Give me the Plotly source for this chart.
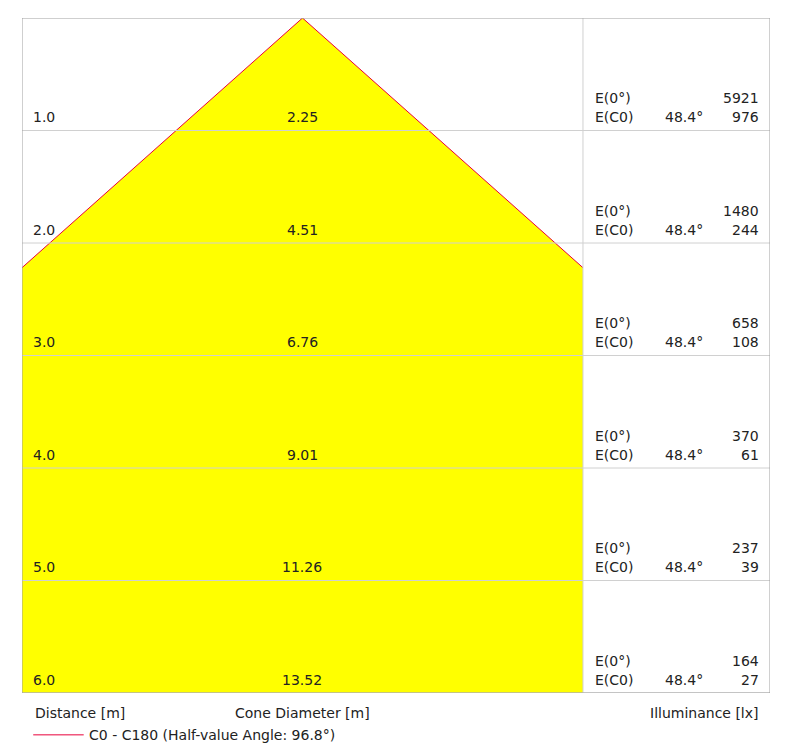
import math
import plotly.graph_objects as go

distances = [1.0, 2.0, 3.0, 4.0, 5.0, 6.0]
diameters = ["2.25", "4.51", "6.76", "9.01", "11.26", "13.52"]
e_center = [5921, 1480, 658, 370, 237, 164]
e_c0 = [976, 244, 108, 61, 39, 27]
half_angle = 48.4

FONT = "DejaVu Sans"
W_HALF = 2.5
X_MAX = 4.167
D_MAX = 6.0

t = math.tan(math.radians(half_angle))
d_edge = W_HALF / t

fig = go.Figure()

# cone fill
fig.add_trace(go.Scatter(
    x=[-W_HALF, 0, W_HALF, W_HALF, -W_HALF, -W_HALF],
    y=[d_edge, 0, d_edge, D_MAX, D_MAX, d_edge],
    fill="toself", fillcolor="#FFFF00", mode="none",
    hoverinfo="skip", showlegend=False,
))
# cone edges
fig.add_trace(go.Scatter(
    x=[-W_HALF, 0, W_HALF], y=[d_edge, 0, d_edge],
    mode="lines", line=dict(color="#E8003A", width=1),
    hoverinfo="skip", showlegend=False,
))

# grid lines
for d in distances:
    fig.add_shape(type="line", x0=-W_HALF, x1=X_MAX, y0=d, y1=d,
                  line=dict(color="#D0D0D0", width=1))
fig.add_shape(type="line", x0=W_HALF, x1=W_HALF, y0=0, y1=D_MAX,
              line=dict(color="#D0D0D0", width=1))
fig.add_shape(type="rect", x0=-W_HALF, x1=X_MAX, y0=0, y1=D_MAX,
              line=dict(color="#A0A0A0", width=1))

txt = dict(family=FONT, size=14, color="#222222")
for d, dia, e0, ec in zip(distances, diameters, e_center, e_c0):
    yb = d - 0.03
    fig.add_annotation(x=-2.42, y=yb, text=f"{d:.1f}", xanchor="left", yanchor="bottom",
                       showarrow=False, font=txt)
    fig.add_annotation(x=0, y=yb, text=dia, xanchor="center", yanchor="bottom",
                       showarrow=False, font=txt)
    fig.add_annotation(x=2.59, y=yb, text="E(C0)", xanchor="left", yanchor="bottom",
                       showarrow=False, font=txt)
    fig.add_annotation(x=2.59, y=yb - 0.17, text="E(0°)", xanchor="left", yanchor="bottom",
                       showarrow=False, font=txt)
    fig.add_annotation(x=3.4, y=yb, text=f"{half_angle}°", xanchor="center", yanchor="bottom",
                       showarrow=False, font=txt)
    fig.add_annotation(x=4.09, y=yb, text=str(ec), xanchor="right", yanchor="bottom",
                       showarrow=False, font=txt)
    fig.add_annotation(x=4.09, y=yb - 0.17, text=str(e0), xanchor="right", yanchor="bottom",
                       showarrow=False, font=txt)

# bottom labels (paper y, below plot)
for xv, label, anc in [(-2.4, "Distance [m]", "left"), (0, "Cone Diameter [m]", "center"),
                       (4.09, "Illuminance [lx]", "right")]:
    fig.add_annotation(x=xv, xref="x", y=-0.03, yref="paper", text=label, xanchor=anc,
                       yanchor="middle", showarrow=False, font=txt)
fig.add_shape(type="line", x0=-2.4, x1=-1.95, xref="x", y0=-0.062, y1=-0.062, yref="paper",
              line=dict(color="#E8003A", width=1))
fig.add_annotation(x=-1.92, xref="x", y=-0.062, yref="paper",
                   text=f"C0 - C180 (Half-value Angle: {2 * half_angle}°)",
                   xanchor="left", yanchor="middle", showarrow=False, font=txt)

fig.update_layout(
    width=790, height=755,
    margin=dict(l=14, r=28, t=10, b=70),
    paper_bgcolor="white", plot_bgcolor="white",
    xaxis=dict(range=[-W_HALF, X_MAX], visible=False, fixedrange=True),
    yaxis=dict(range=[D_MAX, 0], visible=False, fixedrange=True),
    showlegend=False,
)

fig.write_html("out.html")
